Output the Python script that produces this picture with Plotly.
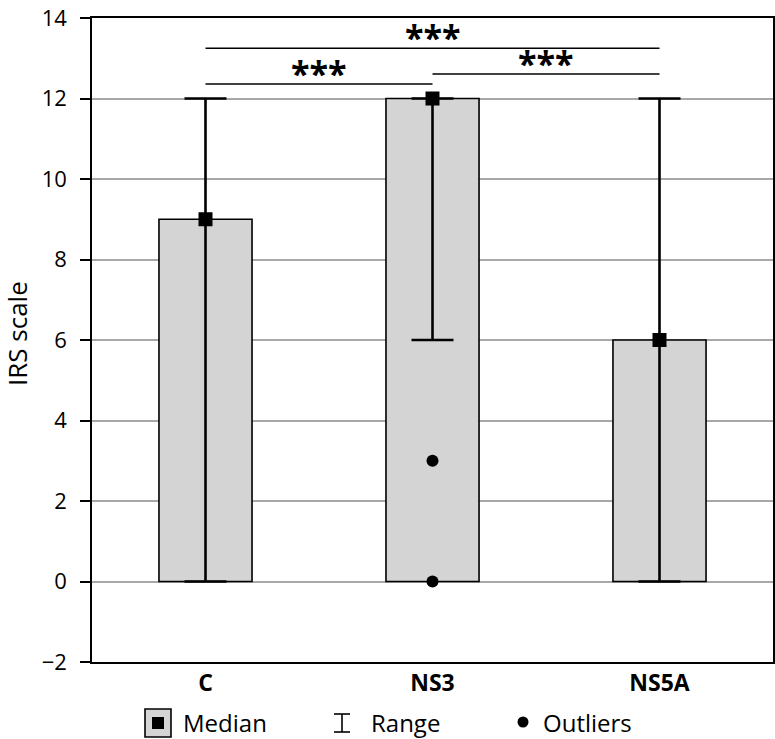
import plotly.graph_objects as go

categories = ["C", "NS3", "NS5A"]
medians = [9, 12, 6]
range_min = [0, 6, 0]
range_max = [12, 12, 12]
outlier_cat = ["NS3", "NS3"]
outlier_val = [3, 0]
# significance comparisons: (from index, to index, bracket level, label)
comp_from = [0, 0, 1]
comp_to = [2, 1, 2]
comp_level = [13.25, 12.36, 12.61]
comp_label = ["***", "***", "***"]
y_ticks = [-2, 0, 2, 4, 6, 8, 10, 12, 14]

FONT = "Open Sans"
W, H = 775, 739
ML, MR, MT, MB = 92, 2, 18, 77
PW = W - ML - MR
PH = H - MT - MB


def px(xp):
    return (xp - ML) / PW


def py(yp):
    return (H - MB - yp) / PH


fig = go.Figure()

fig.add_trace(go.Bar(
    x=categories, y=medians, width=0.41,
    marker=dict(color="#d4d4d4", line=dict(color="black", width=1.6)),
    showlegend=False, hoverinfo="skip",
))

fig.add_trace(go.Scatter(
    x=categories, y=medians, mode="markers",
    marker=dict(symbol="square", size=14, color="black"),
    error_y=dict(
        type="data", symmetric=False,
        array=[mx - m for mx, m in zip(range_max, medians)],
        arrayminus=[m - mn for m, mn in zip(medians, range_min)],
        color="black", thickness=2.6, width=21,
    ),
    showlegend=False,
))

fig.add_trace(go.Scatter(
    x=outlier_cat, y=outlier_val, mode="markers",
    marker=dict(symbol="circle", size=12, color="black"),
    showlegend=False,
))

shapes = []
annotations = []
for a, b, lvl, lab in zip(comp_from, comp_to, comp_level, comp_label):
    shapes.append(dict(type="line", xref="x", yref="y", x0=a, x1=b, y0=lvl, y1=lvl,
                       line=dict(color="black", width=1.6)))
    annotations.append(dict(xref="x", yref="y", x=(a + b) / 2, y=lvl, text=lab,
                            showarrow=False, yanchor="bottom", yshift=-14,
                            font=dict(family=FONT, size=34, color="black", weight="bold")))

# custom legend
shapes.append(dict(type="rect", xref="paper", yref="paper", x0=px(145), x1=px(171),
                   y0=py(737), y1=py(709), fillcolor="#d4d4d4",
                   line=dict(color="black", width=1.6)))
shapes.append(dict(type="rect", xref="paper", yref="paper", x0=px(152), x1=px(164),
                   y0=py(729), y1=py(717), fillcolor="black", line=dict(width=0)))
for yy in (714, 732):
    shapes.append(dict(type="line", xref="paper", yref="paper", x0=px(334), x1=px(350),
                       y0=py(yy), y1=py(yy), line=dict(color="black", width=1.6)))
shapes.append(dict(type="line", xref="paper", yref="paper", x0=px(342), x1=px(342),
                   y0=py(714), y1=py(732), line=dict(color="black", width=1.6)))
shapes.append(dict(type="circle", xref="paper", yref="paper", x0=px(517.5), x1=px(528.5),
                   y0=py(727.5), y1=py(716.5), fillcolor="black", line=dict(width=0)))
for xx, txt in ((181, "Median"), (369, "Range"), (541, "Outliers")):
    annotations.append(dict(xref="paper", yref="paper", x=px(xx), y=py(722), text=txt,
                            showarrow=False, xanchor="left", yanchor="middle",
                            font=dict(family=FONT, size=24, color="black")))

# y axis title
annotations.append(dict(xref="paper", yref="paper", x=px(17), y=py(334), text="IRS scale",
                        textangle=-90, showarrow=False, xanchor="center", yanchor="middle",
                        font=dict(family=FONT, size=26, color="black")))

fig.update_layout(
    width=W, height=H,
    margin=dict(l=ML, r=MR, t=MT, b=MB, pad=0, autoexpand=False),
    plot_bgcolor="white", paper_bgcolor="white",
    shapes=shapes, annotations=annotations,
    showlegend=False,
    font=dict(family=FONT, color="black"),
    xaxis=dict(
        type="category", range=[-0.5, 2.5], automargin=False,
        showline=True, linecolor="black", linewidth=1.6, mirror=True,
        showgrid=False, ticks="",
        tickfont=dict(family=FONT, size=23, color="black", weight="bold"),
    ),
    yaxis=dict(
        range=[-2, 14], tickvals=y_ticks, automargin=False,
        ticktext=[("\u22122" if v < 0 else str(v)) for v in y_ticks],
        showline=True, linecolor="black", linewidth=1.6, mirror=True,
        showgrid=True, gridcolor="#a8a8a8", gridwidth=1.5,
        zeroline=False,
        ticks="outside", ticklen=10, tickwidth=1.6, tickcolor="black",
        ticklabelstandoff=9, ticklabeloverflow="allow",
        tickfont=dict(family=FONT, size=22, color="black"),
    ),
)

fig.write_html("out.html", config={"displayModeBar": False},
               post_script="document.body.style.margin='0';document.body.style.overflow='hidden';")
